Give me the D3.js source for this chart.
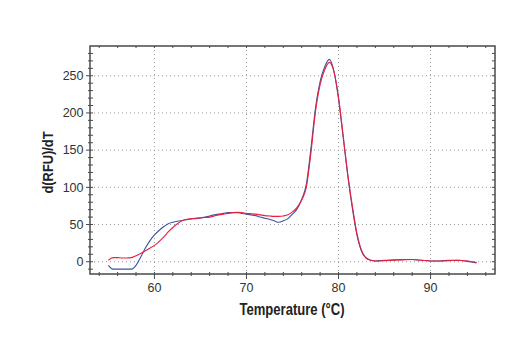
<!DOCTYPE html>
<html><head><meta charset="utf-8">
<script src="https://cdn.jsdelivr.net/npm/d3@7"></script>
<style>
html,body{margin:0;padding:0;background:#fff;}
svg{display:block;}
</style></head>
<body>
<svg id="chart" width="520" height="350"></svg>
<script>
// Temperature samples (°C)
const temps = [55,55.5,56,56.5,57,57.5,58,58.5,59,59.5,60,60.5,61,61.5,62,62.5,63,63.5,64,64.5,65,65.5,66,66.5,67,67.5,68,68.5,69,69.5,70,70.5,71,71.5,72,72.5,73,73.5,74,74.5,75,75.5,76,76.5,77,77.5,78,78.5,79,79.5,80,80.5,81,81.5,82,82.5,83,83.5,84,85,86,87,88,89,90,91,92,93,94,95];
// Series 1 (blue)
const blueValues = [-5,-10,-10,-10,-10,-10,-5,6,18,28,36,42,47,51,53,54.5,55.5,56.5,57.5,58,59,60,61.5,63,64,65,66,66,66,65,64,63,62,60,58.5,57,55,53,55,58,64,71,84,104,152,207,242,262,272,256,219,168,116,72,36,14,5,2,1,2,2.5,3,3,2,1,1,2,2,0.5,-1.5];
// Series 2 (red)
const redValues = [2,5.5,5.5,5,5,5.5,8,11,14.5,18,22,27,33,40,46,51,55,57,58,58.5,59,59.5,60,61.5,63,64,65,66,66.5,66,65,64.5,64,63,62,61.5,61,61,61.5,63,67,73,83,100,146,202,238,258,268,256,221,170,118,75,38,15,5,2,1,1.5,2,2.5,3,2,1,1,1.5,2,1,-1];
const xMajorTicks = [60,70,80,90];
const yMajorTicks = [0,50,100,150,200,250];
const xLabel = "Temperature (°C)";
const yLabel = "d(RFU)/dT";

const svg = d3.select("#chart");
const L = 90, R = 495, T = 46, B = 274;
const x = d3.scaleLinear().domain([53, 97]).range([L, R]);
const y = d3.scaleLinear().domain([-16.5, 290]).range([B, T]);

const frameColor = "#4a4a4a";
const gridColor = "#9a9a9a";
const font = "'Liberation Sans Narrow','Arial Narrow','Liberation Sans',Arial,sans-serif";

// grid
const grid = svg.append("g");
grid.selectAll("line.gx").data(xMajorTicks).join("line")
  .attr("x1", d => x(d)).attr("x2", d => x(d)).attr("y1", T).attr("y2", B)
  .attr("stroke", gridColor).attr("stroke-width", 1).attr("stroke-dasharray", "1,3");
grid.selectAll("line.gy").data(yMajorTicks).join("line")
  .attr("x1", L).attr("x2", R).attr("y1", d => y(d)).attr("y2", d => y(d))
  .attr("stroke", gridColor).attr("stroke-width", 1).attr("stroke-dasharray", "1,3");

// minor ticks
const xMinor = d3.range(54, 97, 2);
const yMinor = d3.range(-10, 290, 10);
const ax = svg.append("g").attr("stroke", frameColor).attr("stroke-width", 1);
// bottom
ax.selectAll("line.bx").data(xMinor).join("line")
  .attr("x1", d => x(d)).attr("x2", d => x(d))
  .attr("y1", B - 2).attr("y2", d => xMajorTicks.includes(d) ? B + 5 : B + 2);
// top
ax.selectAll("line.tx").data(xMinor).join("line")
  .attr("x1", d => x(d)).attr("x2", d => x(d))
  .attr("y1", T).attr("y2", T + 2);
// left
ax.selectAll("line.ly").data(yMinor).join("line")
  .attr("y1", d => y(d)).attr("y2", d => y(d))
  .attr("x1", d => yMajorTicks.includes(d) ? L - 4 : L - 2).attr("x2", L + 3);
// right
ax.selectAll("line.ry").data(yMinor).join("line")
  .attr("y1", d => y(d)).attr("y2", d => y(d))
  .attr("x1", R - 3).attr("x2", R);

// frame
svg.append("rect").attr("x", L).attr("y", T).attr("width", R - L).attr("height", B - T)
  .attr("fill", "none").attr("stroke", frameColor).attr("stroke-width", 1.5);

// lines
const line = (vals) => d3.line()
  .x((d, i) => x(temps[i])).y(d => y(d))
  .curve(d3.curveMonotoneX)(vals);
svg.append("path").attr("d", line(blueValues)).attr("fill", "none")
  .attr("stroke", "#3d52a6").attr("stroke-width", 1.1);
svg.append("path").attr("d", line(redValues)).attr("fill", "none")
  .attr("stroke", "#ea1f3d").attr("stroke-width", 1.1);

// tick labels
svg.selectAll("text.xt").data(xMajorTicks).join("text")
  .attr("x", d => x(d)).attr("y", 292).attr("text-anchor", "middle")
  .attr("font-family", font).attr("font-size", 12.5).attr("fill", "#333").text(d => d);
svg.selectAll("text.yt").data(yMajorTicks).join("text")
  .attr("x", 83.5).attr("y", d => y(d) + 4.3).attr("text-anchor", "end")
  .attr("font-family", font).attr("font-size", 12.5).attr("fill", "#333").text(d => d);

// axis labels
svg.append("text").attr("x", 292).attr("y", 315).attr("text-anchor", "middle")
  .attr("font-family", font).attr("font-weight", "bold").attr("font-size", 16)
  .attr("fill", "#222").attr("textLength", 105).attr("lengthAdjust", "spacingAndGlyphs")
  .text(xLabel);
svg.append("text").attr("transform", "translate(52.5,162.5) rotate(-90)")
  .attr("text-anchor", "middle")
  .attr("font-family", font).attr("font-weight", "bold").attr("font-size", 15)
  .attr("fill", "#222").attr("textLength", 62).attr("lengthAdjust", "spacingAndGlyphs")
  .text(yLabel);
</script>
</body></html>
